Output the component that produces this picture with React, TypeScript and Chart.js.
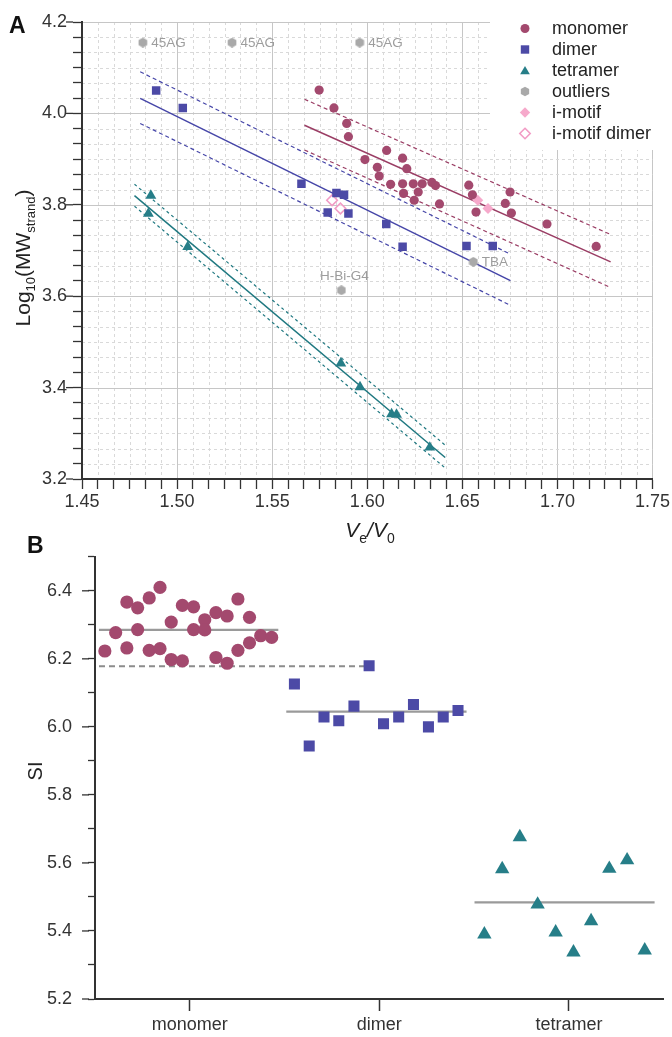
import React, { useEffect, useRef } from 'react';
import { Chart, registerables } from 'chart.js';

Chart.register(...registerables);

const FONT = '"Liberation Sans", Arial, Helvetica, sans-serif';
const C_MONO = '#a3496e';
const C_MONO_LINE = '#9a3d64';
const C_DIM = '#4c4aa6';
const C_DIM_LINE = '#4646a8';
const C_TET = '#267e88';
const C_TET_LINE = '#1f7880';
const C_OUT = '#a9a9a9';
const C_IM = '#f6a9cb';
const C_IMD = '#f29cc5';
const C_AXIS = '#333333';
const C_TEXT = '#333333';

// ---------------- Panel A data (Ve/V0 vs log10 MW) ----------------
const monomerVe = [1.5747, 1.5825, 1.5892, 1.5901, 1.5988, 1.6102, 1.6053, 1.6063, 1.6186, 1.6208, 1.6123, 1.6186, 1.6242, 1.6289, 1.634, 1.6359, 1.6191, 1.6268, 1.6247, 1.638, 1.6534, 1.6553, 1.6572, 1.6751, 1.6726, 1.6758, 1.6945, 1.7204];
const monomerLogMW = [4.051, 4.012, 3.978, 3.949, 3.899, 3.919, 3.882, 3.863, 3.902, 3.879, 3.845, 3.846, 3.846, 3.846, 3.849, 3.842, 3.825, 3.828, 3.81, 3.802, 3.843, 3.822, 3.784, 3.828, 3.803, 3.782, 3.758, 3.709];
const dimerVe = [1.489, 1.503, 1.5654, 1.5838, 1.5878, 1.5792, 1.5901, 1.61, 1.6186, 1.6522, 1.666];
const dimerLogMW = [4.05, 4.012, 3.846, 3.826, 3.822, 3.783, 3.781, 3.758, 3.708, 3.71, 3.71];
const tetramerVe = [1.4862, 1.4849, 1.5056, 1.5861, 1.5962, 1.6128, 1.6154, 1.6329];
const tetramerLogMW = [3.82, 3.781, 3.708, 3.453, 3.401, 3.342, 3.341, 3.269];
const outlierVe = [1.482, 1.5289, 1.596, 1.5864, 1.6558];
const outlierLogMW = [4.155, 4.155, 4.155, 3.613, 3.675];
const outlierNames = ['45AG', '45AG', '45AG', 'H-Bi-G4', 'TBA'];
const imotifVe = [1.6581, 1.6635];
const imotifLogMW = [3.81, 3.792];
const imotifDimerVe = [1.5815, 1.5859];
const imotifDimerLogMW = [3.81, 3.792];

// regression lines with prediction bands
const monomerFitVe = [1.567, 1.728];
const monomerFit = [3.974, 3.675];
const monomerUpper = [4.031, 3.735];
const monomerLower = [3.92, 3.619];
const dimerFitVe = [1.4806, 1.6753];
const dimerFit = [4.033, 3.634];
const dimerUpper = [4.091, 3.692];
const dimerLower = [3.978, 3.58];
const tetramerFitVe = [1.4776, 1.641];
const tetramerFit = [3.82, 3.247];
const tetramerUpper = [3.845, 3.274];
const tetramerLower = [3.797, 3.224];

const xTicksA = Array.from({ length: 37 }, (_, i) => 1.45 + (i * 0.05) / 6);
const yTicksA = Array.from({ length: 31 }, (_, i) => 3.2 + i / 30);

// ---------------- Panel B data (SI by category) ----------------
const categories = ['monomer', 'dimer', 'tetramer'];
const siMonomerPos = [0.552, 0.609, 0.668, 0.668, 0.725, 0.725, 0.786, 0.786, 0.843, 0.843, 0.902, 0.902, 0.961, 0.961, 1.02, 1.02, 1.079, 1.079, 1.138, 1.138, 1.197, 1.197, 1.254, 1.254, 1.315, 1.315, 1.374, 1.432];
const siMonomer = [6.223, 6.277, 6.367, 6.232, 6.35, 6.286, 6.379, 6.225, 6.41, 6.23, 6.308, 6.198, 6.357, 6.194, 6.353, 6.286, 6.315, 6.285, 6.336, 6.204, 6.326, 6.187, 6.376, 6.225, 6.322, 6.247, 6.268, 6.263];
const siDimerPos = [1.552, 1.63, 1.708, 1.786, 1.866, 1.946, 2.022, 2.102, 2.18, 2.259, 2.337, 2.415];
const siDimer = [6.126, 5.944, 6.029, 6.018, 6.061, 6.18, 6.009, 6.029, 6.066, 6.0, 6.029, 6.048];
const siTetramerPos = [2.554, 2.648, 2.741, 2.835, 2.93, 3.024, 3.117, 3.213, 3.307, 3.4];
const siTetramer = [5.39, 5.582, 5.676, 5.478, 5.396, 5.337, 5.429, 5.583, 5.608, 5.343];
const siMeans = [6.285, 6.045, 5.484];
const siMeanStart = [0.521, 1.509, 2.502];
const siMeanEnd = [1.467, 2.46, 3.452];
const siReference = 6.178;
const siReferenceSpan = [0.521, 1.93];
const yTicksB = Array.from({ length: 14 }, (_, i) => 5.2 + i * 0.1);

// ---------------- helpers ----------------
const isMajor = (v: number, step: number) => Math.abs(v / step - Math.round(v / step)) < 1e-6;
const pts = (xs: number[], ys: number[]) => xs.map((x, i) => ({ x, y: ys[i] }));

function makeHexagon(size: number, color: string) {
  const c = document.createElement('canvas');
  c.width = size;
  c.height = size;
  const g = c.getContext('2d')!;
  g.fillStyle = color;
  g.beginPath();
  const r = size / 2;
  for (let i = 0; i < 6; i++) {
    const a = (Math.PI / 3) * i + Math.PI / 6;
    const x = r + r * Math.cos(a);
    const y = r + r * Math.sin(a);
    if (i === 0) g.moveTo(x, y);
    else g.lineTo(x, y);
  }
  g.closePath();
  g.fill();
  return c;
}

function lineDs(xs: number[], ys: number[], color: string, width: number, dash: number[]) {
  return {
    data: pts(xs, ys),
    showLine: true,
    pointRadius: 0,
    pointHoverRadius: 0,
    borderColor: color,
    backgroundColor: color,
    borderWidth: width,
    borderDash: dash,
    fill: false,
  };
}

type Part = { t: string; font: string; dy: number };
function drawRich(ctx: CanvasRenderingContext2D, parts: Part[], cx: number, cy: number, rot: number) {
  ctx.save();
  ctx.translate(cx, cy);
  ctx.rotate(rot);
  let total = 0;
  const widths = parts.map((p) => {
    ctx.font = p.font;
    const w = ctx.measureText(p.t).width;
    total += w;
    return w;
  });
  let x = -total / 2;
  ctx.textBaseline = 'alphabetic';
  ctx.textAlign = 'left';
  parts.forEach((p, i) => {
    ctx.font = p.font;
    ctx.fillText(p.t, x, p.dy);
    x += widths[i];
  });
  ctx.restore();
}

function drawMarker(ctx: CanvasRenderingContext2D, kind: string, x: number, y: number, fill: string, stroke?: string) {
  ctx.save();
  ctx.beginPath();
  if (kind === 'circle') {
    ctx.arc(x, y, 4.5, 0, Math.PI * 2);
  } else if (kind === 'rect') {
    ctx.rect(x - 4.2, y - 4.2, 8.4, 8.4);
  } else if (kind === 'triangle') {
    const r = 5.6;
    for (let i = 0; i < 3; i++) {
      const a = -Math.PI / 2 + (i * 2 * Math.PI) / 3;
      const px = x + r * Math.cos(a);
      const py = y + 1 + r * Math.sin(a);
      if (i === 0) ctx.moveTo(px, py);
      else ctx.lineTo(px, py);
    }
    ctx.closePath();
  } else if (kind === 'hex') {
    const r = 4.8;
    for (let i = 0; i < 6; i++) {
      const a = (Math.PI / 3) * i + Math.PI / 6;
      const px = x + r * Math.cos(a);
      const py = y + r * Math.sin(a);
      if (i === 0) ctx.moveTo(px, py);
      else ctx.lineTo(px, py);
    }
    ctx.closePath();
  } else if (kind === 'diamond') {
    const r = 5.2;
    ctx.moveTo(x, y - r);
    ctx.lineTo(x + r, y);
    ctx.lineTo(x, y + r);
    ctx.lineTo(x - r, y);
    ctx.closePath();
  }
  if (stroke) {
    ctx.fillStyle = '#ffffff';
    ctx.fill();
    ctx.strokeStyle = stroke;
    ctx.lineWidth = 1.6;
    ctx.stroke();
  } else {
    ctx.fillStyle = fill;
    ctx.fill();
  }
  ctx.restore();
}

const legendEntries = [
  { name: 'monomer', kind: 'circle', fill: C_MONO },
  { name: 'dimer', kind: 'rect', fill: C_DIM },
  { name: 'tetramer', kind: 'triangle', fill: C_TET },
  { name: 'outliers', kind: 'hex', fill: C_OUT },
  { name: 'i-motif', kind: 'diamond', fill: C_IM },
  { name: 'i-motif dimer', kind: 'diamond', fill: '#fff', stroke: C_IMD },
];

const panelAPlugin = {
  id: 'panelA',
  beforeDraw(chart: any) {
    const { ctx, chartArea: ca, scales } = chart;
    const x = scales.x;
    const y = scales.y;
    ctx.save();
    ctx.lineWidth = 1;
    x.ticks.forEach((t: any, i: number) => {
      if (i === 0) return;
      const major = isMajor(t.value, 0.05);
      const px = Math.round(x.getPixelForValue(t.value)) + 0.5;
      ctx.strokeStyle = major ? '#c6c6c6' : '#d9d9d9';
      ctx.setLineDash(major ? [] : [3, 3]);
      ctx.beginPath();
      ctx.moveTo(px, ca.top);
      ctx.lineTo(px, ca.bottom);
      ctx.stroke();
    });
    y.ticks.forEach((t: any, i: number) => {
      if (i === 0) return;
      const major = isMajor(t.value, 0.2);
      const py = Math.round(y.getPixelForValue(t.value)) + 0.5;
      ctx.strokeStyle = major ? '#c6c6c6' : '#d9d9d9';
      ctx.setLineDash(major ? [] : [3, 3]);
      ctx.beginPath();
      ctx.moveTo(ca.left, py);
      ctx.lineTo(ca.right, py);
      ctx.stroke();
    });
    ctx.setLineDash([]);
    ctx.fillStyle = '#ffffff';
    ctx.fillRect(490, 0, chart.width - 490, 150);
    ctx.restore();
  },
  afterDraw(chart: any) {
    const { ctx, chartArea: ca, scales } = chart;
    const x = scales.x;
    const y = scales.y;
    ctx.save();
    // longer major ticks on y axis
    ctx.strokeStyle = C_AXIS;
    ctx.lineWidth = 1.3;
    y.ticks.forEach((t: any) => {
      if (!isMajor(t.value, 0.2)) return;
      const py = y.getPixelForValue(t.value);
      ctx.beginPath();
      ctx.moveTo(ca.left - 16, py);
      ctx.lineTo(ca.left - 9, py);
      ctx.stroke();
    });
    // outlier labels
    ctx.font = `13.5px ${FONT}`;
    ctx.fillStyle = '#9d9d9d';
    outlierNames.forEach((name, i) => {
      const px = x.getPixelForValue(outlierVe[i]);
      const py = y.getPixelForValue(outlierLogMW[i]);
      if (name === 'H-Bi-G4') {
        ctx.textAlign = 'center';
        ctx.textBaseline = 'middle';
        ctx.fillText(name, px + 3, py - 13.5);
      } else {
        ctx.textAlign = 'left';
        ctx.textBaseline = 'middle';
        ctx.fillText(name, px + 8.5, py + 0.5);
      }
    });
    // legend
    const rowY0 = 28.5;
    const rowH = 21;
    legendEntries.forEach((e, i) => {
      const ry = rowY0 + i * rowH;
      drawMarker(ctx, e.kind, 525, ry, e.fill, (e as any).stroke);
      ctx.font = `18px ${FONT}`;
      ctx.fillStyle = '#222222';
      ctx.textAlign = 'left';
      ctx.textBaseline = 'middle';
      ctx.fillText(e.name, 552, ry + 1);
    });
    // axis titles
    ctx.fillStyle = '#222222';
    drawRich(
      ctx,
      [
        { t: 'V', font: `italic 21px ${FONT}`, dy: 0 },
        { t: 'e', font: `14px ${FONT}`, dy: 6 },
        { t: '/', font: `italic 21px ${FONT}`, dy: 0 },
        { t: 'V', font: `italic 21px ${FONT}`, dy: 0 },
        { t: '0', font: `14px ${FONT}`, dy: 6 },
      ],
      370,
      537,
      0
    );
    drawRich(
      ctx,
      [
        { t: 'Log', font: `21px ${FONT}`, dy: 0 },
        { t: '10', font: `13px ${FONT}`, dy: 5 },
        { t: '(MW', font: `21px ${FONT}`, dy: 0 },
        { t: 'strand', font: `13px ${FONT}`, dy: 5 },
        { t: ')', font: `21px ${FONT}`, dy: 0 },
      ],
      30,
      258,
      -Math.PI / 2
    );
    ctx.font = `bold 23px ${FONT}`;
    ctx.fillStyle = '#111111';
    ctx.textAlign = 'left';
    ctx.textBaseline = 'alphabetic';
    ctx.fillText('A', 9, 33);
    ctx.restore();
  },
};

const panelBPlugin = {
  id: 'panelB',
  afterDraw(chart: any) {
    const { ctx, chartArea: ca, scales } = chart;
    const y = scales.y;
    ctx.save();
    ctx.strokeStyle = C_AXIS;
    ctx.lineWidth = 1.3;
    y.ticks.forEach((t: any) => {
      if (!isMajor(t.value, 0.2)) return;
      const py = y.getPixelForValue(t.value);
      ctx.beginPath();
      ctx.moveTo(ca.left - 13, py);
      ctx.lineTo(ca.left - 6, py);
      ctx.stroke();
    });
    ctx.fillStyle = '#222222';
    drawRich(ctx, [{ t: 'SI', font: `20px ${FONT}`, dy: 0 }], 42, 241, -Math.PI / 2);
    ctx.font = `bold 23px ${FONT}`;
    ctx.fillStyle = '#111111';
    ctx.textAlign = 'left';
    ctx.textBaseline = 'alphabetic';
    ctx.fillText('B', 27, 23);
    ctx.restore();
  },
};

function configA(): any {
  const hexImg = makeHexagon(10, C_OUT);
  return {
    type: 'scatter',
    data: {
      datasets: [
        { label: 'monomer', data: pts(monomerVe, monomerLogMW), pointStyle: 'circle', pointRadius: 4.6, backgroundColor: C_MONO, borderColor: C_MONO, borderWidth: 0 },
        { label: 'dimer', data: pts(dimerVe, dimerLogMW), pointStyle: 'rect', pointRadius: 6, backgroundColor: C_DIM, borderColor: C_DIM, borderWidth: 0 },
        { label: 'tetramer', data: pts(tetramerVe, tetramerLogMW), pointStyle: 'triangle', pointRadius: 6.3, backgroundColor: C_TET, borderColor: C_TET, borderWidth: 0 },
        { label: 'outliers', data: pts(outlierVe, outlierLogMW), pointStyle: hexImg, pointRadius: 5, backgroundColor: C_OUT, borderColor: C_OUT },
        { label: 'i-motif', data: pts(imotifVe, imotifLogMW), pointStyle: 'rectRot', pointRadius: 5.5, backgroundColor: C_IM, borderColor: C_IM, borderWidth: 0 },
        { label: 'i-motif dimer', data: pts(imotifDimerVe, imotifDimerLogMW), pointStyle: 'rectRot', pointRadius: 5.3, backgroundColor: 'rgba(255,255,255,0.55)', borderColor: C_IMD, borderWidth: 1.6 },
        lineDs(monomerFitVe, monomerFit, C_MONO_LINE, 1.5, []),
        lineDs(monomerFitVe, monomerUpper, C_MONO_LINE, 1.2, [4, 3]),
        lineDs(monomerFitVe, monomerLower, C_MONO_LINE, 1.2, [4, 3]),
        lineDs(dimerFitVe, dimerFit, C_DIM_LINE, 1.5, []),
        lineDs(dimerFitVe, dimerUpper, C_DIM_LINE, 1.2, [4, 3]),
        lineDs(dimerFitVe, dimerLower, C_DIM_LINE, 1.2, [4, 3]),
        lineDs(tetramerFitVe, tetramerFit, C_TET_LINE, 1.5, []),
        lineDs(tetramerFitVe, tetramerUpper, C_TET_LINE, 1.2, [3, 3]),
        lineDs(tetramerFitVe, tetramerLower, C_TET_LINE, 1.2, [3, 3]),
      ],
    },
    options: {
      responsive: false,
      animation: false,
      devicePixelRatio: 1,
      layout: { padding: { top: 22, right: 18, left: 0, bottom: 0 } },
      plugins: { legend: { display: false }, tooltip: { enabled: false } },
      scales: {
        x: {
          type: 'linear',
          min: 1.45,
          max: 1.75,
          afterBuildTicks: (s: any) => {
            s.ticks = xTicksA.map((v) => ({ value: v }));
          },
          afterFit: (s: any) => {
            s.height = 81;
          },
          ticks: {
            autoSkip: false,
            maxRotation: 0,
            minRotation: 0,
            padding: 2,
            color: C_TEXT,
            font: { family: FONT, size: 18 },
            callback: (v: number) => (isMajor(v, 0.05) ? v.toFixed(2) : ''),
          },
          grid: { display: true, drawOnChartArea: false, drawTicks: true, tickLength: 10, tickColor: C_AXIS, tickWidth: 1.3 },
          border: { display: true, color: C_AXIS, width: 2 },
        },
        y: {
          type: 'linear',
          min: 3.2,
          max: 4.2,
          afterBuildTicks: (s: any) => {
            s.ticks = yTicksA.map((v) => ({ value: v }));
          },
          afterFit: (s: any) => {
            s.width = 82;
          },
          ticks: {
            autoSkip: false,
            padding: 6,
            color: C_TEXT,
            font: { family: FONT, size: 18 },
            callback: (v: number) => (isMajor(v, 0.2) ? v.toFixed(1) : ''),
          },
          grid: { display: true, drawOnChartArea: false, drawTicks: true, tickLength: 9, tickColor: C_AXIS, tickWidth: 1.3 },
          border: { display: true, color: C_AXIS, width: 2 },
        },
      },
    },
    plugins: [panelAPlugin],
  };
}

function configB(): any {
  const meanLines = siMeans.map((m, i) => lineDs([siMeanStart[i], siMeanEnd[i]], [m, m], '#9a9a9a', 2.2, []));
  return {
    type: 'scatter',
    data: {
      datasets: [
        { label: 'monomer', data: pts(siMonomerPos, siMonomer), pointStyle: 'circle', pointRadius: 6.6, backgroundColor: C_MONO, borderColor: C_MONO, borderWidth: 0 },
        { label: 'dimer', data: pts(siDimerPos, siDimer), pointStyle: 'rect', pointRadius: 7.8, backgroundColor: C_DIM, borderColor: C_DIM, borderWidth: 0 },
        { label: 'tetramer', data: pts(siTetramerPos, siTetramer), pointStyle: 'triangle', pointRadius: 8.3, backgroundColor: C_TET, borderColor: C_TET, borderWidth: 0 },
        ...meanLines,
        lineDs(siReferenceSpan, [siReference, siReference], '#8c8c8c', 2, [6, 4]),
      ],
    },
    options: {
      responsive: false,
      animation: false,
      devicePixelRatio: 1,
      layout: { padding: { top: 12, right: 2, left: 0, bottom: 0 } },
      plugins: { legend: { display: false }, tooltip: { enabled: false } },
      scales: {
        x: {
          type: 'linear',
          min: 0.5,
          max: 3.5,
          afterBuildTicks: (s: any) => {
            s.ticks = categories.map((_, i) => ({ value: i + 1 }));
          },
          afterFit: (s: any) => {
            s.height = 38;
          },
          ticks: {
            autoSkip: false,
            maxRotation: 0,
            minRotation: 0,
            padding: 3,
            color: C_TEXT,
            font: { family: FONT, size: 18 },
            callback: (v: number) => categories[Math.round(v) - 1] ?? '',
          },
          grid: { display: true, drawOnChartArea: false, drawTicks: true, tickLength: 12, tickColor: C_AXIS, tickWidth: 1.5 },
          border: { display: true, color: C_AXIS, width: 2 },
        },
        y: {
          type: 'linear',
          min: 5.2,
          max: 6.5,
          afterBuildTicks: (s: any) => {
            s.ticks = yTicksB.map((v) => ({ value: v }));
          },
          afterFit: (s: any) => {
            s.width = 95;
          },
          ticks: {
            autoSkip: false,
            padding: 16,
            color: C_TEXT,
            font: { family: FONT, size: 18 },
            callback: (v: number) => (isMajor(v, 0.2) ? v.toFixed(1) : ''),
          },
          grid: { display: true, drawOnChartArea: false, drawTicks: true, tickLength: 7, tickColor: C_AXIS, tickWidth: 1.3 },
          border: { display: true, color: C_AXIS, width: 2 },
        },
      },
    },
    plugins: [panelBPlugin],
  };
}

export default function App() {
  const refA = useRef<HTMLCanvasElement>(null);
  const refB = useRef<HTMLCanvasElement>(null);
  useEffect(() => {
    const chartA = new Chart(refA.current!, configA());
    const chartB = new Chart(refB.current!, configB());
    return () => {
      chartA.destroy();
      chartB.destroy();
    };
  }, []);
  return (
    <div style={{ position: 'absolute', left: 0, top: 0, width: 672, height: 1037, background: '#ffffff', overflow: 'hidden' }}>
      <canvas ref={refA} width={672} height={560} style={{ position: 'absolute', left: 0, top: 0, width: 672, height: 560 }} />
      <canvas ref={refB} width={672} height={507} style={{ position: 'absolute', left: 0, top: 530, width: 672, height: 507 }} />
    </div>
  );
}
